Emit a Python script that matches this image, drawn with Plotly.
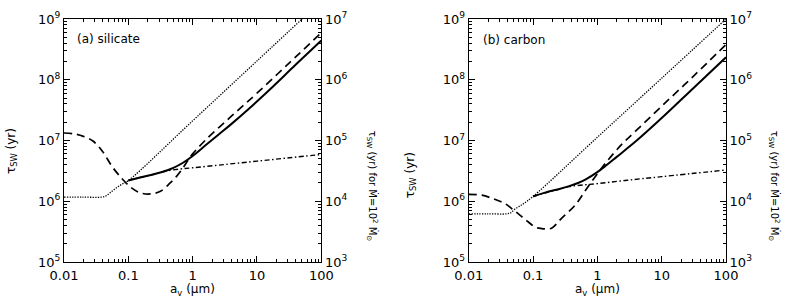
import plotly.graph_objects as go

# ---------------- data (a_v in micron, tau_SW in yr) ----------------
# (a) silicate
sil_dot_a   = [0.01, 0.02, 0.038, 0.045, 0.052, 0.063, 0.079, 0.1, 1, 10, 100]
sil_dot_tau = [1.17e6, 1.17e6, 1.17e6, 1.23e6, 1.38e6, 1.62e6, 1.9e6, 2.19e6, 2.11e7, 2.04e8, 1.97e9]

sil_sol_a   = [0.1, 0.158, 0.251, 0.355, 0.501, 0.708, 1.0, 1.585, 2.512, 3.981, 7.345, 15.85, 39.81, 100]
sil_sol_tau = [2.2e6, 2.48e6, 2.79e6, 3.09e6, 3.55e6, 4.3e6, 5.56e6, 8.32e6, 1.245e7, 1.86e7, 3.27e7, 6.92e7, 1.76e8, 4.43e8]

sil_dd_a    = [0.1, 0.158, 0.251, 0.355, 0.631, 1.0, 3.162, 10, 31.62, 100]
sil_dd_tau  = [2.2e6, 2.48e6, 2.79e6, 3.09e6, 3.39e6, 3.55e6, 4.03e6, 4.57e6, 5.19e6, 5.89e6]

sil_das_a   = [0.01, 0.0141, 0.02, 0.0282, 0.0398, 0.0562, 0.0794, 0.112, 0.158, 0.224, 0.316,
               0.447, 0.562, 0.708, 0.857, 1.0, 1.78, 3.16, 5.62, 10, 31.6, 100]
sil_das_tau = [1.33e7, 1.29e7, 1.17e7, 9.8e6, 6.6e6, 3.7e6, 2.37e6, 1.66e6, 1.36e6, 1.32e6, 1.46e6,
               2.0e6, 2.57e6, 3.55e6, 4.84e6, 6.03e6, 1.15e7, 2.0e7, 3.47e7, 6.0e7, 1.88e8, 5.93e8]

# (b) carbon
car_dot_a   = [0.01, 0.02, 0.039, 0.045, 0.052, 0.063, 0.071, 0.1, 1, 10, 100]
car_dot_tau = [6.21e5, 6.21e5, 6.21e5, 6.46e5, 7.41e5, 8.41e5, 9.12e5, 1.2e6, 1.13e7, 1.06e8, 1.0e9]

car_sol_a   = [0.1, 0.158, 0.25, 0.355, 0.5, 0.65, 1.0, 1.41, 2.0, 4.0, 10, 31.6, 100]
car_sol_tau = [1.2e6, 1.4e6, 1.58e6, 1.76e6, 2.0e6, 2.28e6, 3.02e6, 3.98e6, 5.37e6, 9.77e6, 2.34e7, 7.41e7, 2.34e8]

car_dd_a    = [0.1, 0.158, 0.25, 0.355, 0.63, 1.0, 2.72, 10, 100]
car_dd_tau  = [1.2e6, 1.38e6, 1.57e6, 1.74e6, 1.86e6, 1.95e6, 2.2e6, 2.54e6, 3.27e6]

car_das_a   = [0.01, 0.016, 0.023, 0.032, 0.037, 0.053, 0.076, 0.108, 0.137, 0.164, 0.197, 0.28,
               0.45, 0.73, 1.33, 2.41, 3.88, 10, 31.6, 100]
car_das_tau = [1.3e6, 1.26e6, 1.12e6, 9.8e5, 9.1e5, 6.8e5, 5.0e5, 3.77e5, 3.55e5, 3.5e5, 3.63e5, 5.28e5,
               8.6e5, 1.79e6, 4.19e6, 8.7e6, 1.41e7, 3.67e7, 1.16e8, 3.8e8]

x_tickvals  = [0.01, 0.1, 1, 10, 100]
x_ticktext  = ["0.01", "0.1", "1", "10", "100"]
yl_tickvals = [1e5, 1e6, 1e7, 1e8, 1e9]
yl_ticktext = ["10<sup>5</sup>", "10<sup>6</sup>", "10<sup>7</sup>", "10<sup>8</sup>", "10<sup>9</sup>"]
yr_tickvals = [1e3, 1e4, 1e5, 1e6, 1e7]
yr_ticktext = ["10<sup>3</sup>", "10<sup>4</sup>", "10<sup>5</sup>", "10<sup>6</sup>", "10<sup>7</sup>"]

# ---------------- layout geometry ----------------
W, H = 785, 303
ML, MR, MT, MB = 64, 59, 10, 41
PW = W - ML - MR
PH = H - MT - MB
dom_left = [0, (321.3 - ML) / PW]
dom_right = [(468.7 - ML) / PW, 1]

FONT = "DejaVu Sans"
BLACK = "#000000"
SMOOTH = 1.0

def minor_vals(lo, hi):
    out = []
    for e in range(lo, hi):
        for m in range(2, 10):
            out.append(m * 10.0 ** e)
    return out

def xax(domain, anchor):
    return dict(type="log", domain=domain, anchor=anchor, range=[-2, 2],
                showline=True, linecolor=BLACK, linewidth=1, mirror="ticks",
                ticks="inside", ticklen=6, tickwidth=1, tickcolor=BLACK,
                tickmode="array", tickvals=x_tickvals, ticktext=x_ticktext,
                showgrid=False, zeroline=False, ticklabelstandoff=1,
                tickfont=dict(family=FONT, size=13, color=BLACK))

def xminor(overlay, anchor):
    return dict(type="log", overlaying=overlay, anchor=anchor, range=[-2, 2], side="bottom",
                showline=False, mirror="ticks", ticks="inside", ticklen=3, tickwidth=1,
                tickcolor=BLACK, tickmode="array", tickvals=minor_vals(-2, 2),
                showticklabels=False, showgrid=False, zeroline=False)

def yax(anchor, lo, hi, vals, text, side="left", overlay=None):
    d = dict(type="log", anchor=anchor, range=[lo, hi], side=side,
             showline=True, linecolor=BLACK, linewidth=1,
             ticks="inside", ticklen=6, tickwidth=1, tickcolor=BLACK,
             tickmode="array", tickvals=vals, ticktext=text,
             showgrid=False, zeroline=False, ticklabelstandoff=0,
             tickfont=dict(family=FONT, size=13, color=BLACK))
    if overlay:
        d["overlaying"] = overlay
    return d

def yminor(overlay, anchor):
    return dict(type="log", overlaying=overlay, anchor=anchor, range=[5, 9], side="left",
                showline=False, mirror="ticks", ticks="inside", ticklen=3, tickwidth=1,
                tickcolor=BLACK, tickmode="array", tickvals=minor_vals(5, 9),
                showticklabels=False, showgrid=False, zeroline=False)

fig = go.Figure()

def add_panel(xa, ya, dot, sol, dd, das):
    fig.add_trace(go.Scatter(x=dot[0], y=dot[1], xaxis=xa, yaxis=ya, mode="lines",
                             line=dict(color=BLACK, width=1.3, dash="1.3px,1.3px", shape="spline", smoothing=SMOOTH),
                             showlegend=False, hoverinfo="skip"))
    fig.add_trace(go.Scatter(x=dd[0], y=dd[1], xaxis=xa, yaxis=ya, mode="lines",
                             line=dict(color=BLACK, width=1.4, dash="5px,2.5px,1.5px,2.5px", shape="spline", smoothing=SMOOTH),
                             showlegend=False, hoverinfo="skip"))
    fig.add_trace(go.Scatter(x=das[0], y=das[1], xaxis=xa, yaxis=ya, mode="lines",
                             line=dict(color=BLACK, width=1.7, dash="8px,5px", shape="spline", smoothing=SMOOTH),
                             showlegend=False, hoverinfo="skip"))
    fig.add_trace(go.Scatter(x=sol[0], y=sol[1], xaxis=xa, yaxis=ya, mode="lines",
                             line=dict(color=BLACK, width=2, shape="spline", smoothing=SMOOTH),
                             showlegend=False, hoverinfo="skip"))

add_panel("x", "y", (sil_dot_a, sil_dot_tau), (sil_sol_a, sil_sol_tau),
          (sil_dd_a, sil_dd_tau), (sil_das_a, sil_das_tau))
add_panel("x2", "y3", (car_dot_a, car_dot_tau), (car_sol_a, car_sol_tau),
          (car_dd_a, car_dd_tau), (car_das_a, car_das_tau))
# empty traces so that the extra axes are drawn
for xa, ya in [("x", "y2"), ("x2", "y4"), ("x3", "y5"), ("x4", "y6")]:
    fig.add_trace(go.Scatter(x=[], y=[], xaxis=xa, yaxis=ya, showlegend=False, hoverinfo="skip"))

def px2paper(xp, yp):
    return (xp - ML) / PW, (H - MB - yp) / PH

annots = []
def ann(text, xp, yp, angle=0, size=13, xanchor="center", yanchor="middle"):
    x, y = px2paper(xp, yp)
    annots.append(dict(text=text, x=x, y=y, xref="paper", yref="paper", showarrow=False,
                       textangle=angle, xanchor=xanchor, yanchor=yanchor,
                       font=dict(family=FONT, size=size, color=BLACK)))

ann("(a) silicate", 75, 31, xanchor="left", size=12)
ann("(b) carbon", 481, 32, xanchor="left", size=12)
ann("a<sub>v</sub> (µm)", 192, 291, size=12)
ann("a<sub>v</sub> (µm)", 597, 291, size=12)
ann("τ<sub>SW</sub> (yr)", 12, 147, angle=-90, size=12)
ann("τ<sub>SW</sub> (yr)", 411, 172, angle=-90, size=12)
ann("τ<sub>SW</sub> (yr) for Ṁ=10<sup>2</sup> Ṁ<sub>⊙</sub>", 372, 183, angle=90, size=10)
ann("τ<sub>SW</sub> (yr) for Ṁ=10<sup>2</sup> Ṁ<sub>⊙</sub>", 774, 183, angle=90, size=10)

fig.update_layout(
    width=W, height=H, autosize=False,
    margin=dict(l=ML, r=MR, t=MT, b=MB, pad=0),
    paper_bgcolor="white", plot_bgcolor="white",
    showlegend=False,
    xaxis=xax(dom_left, "y"),
    xaxis3=xminor("x", "y"),
    yaxis=yax("x", 5, 9, yl_tickvals, yl_ticktext),
    yaxis2=yax("x", 3, 7, yr_tickvals, yr_ticktext, side="right", overlay="y"),
    yaxis5=yminor("y", "x"),
    xaxis2=xax(dom_right, "y3"),
    xaxis4=xminor("x2", "y3"),
    yaxis3=yax("x2", 5, 9, yl_tickvals, yl_ticktext),
    yaxis4=yax("x2", 3, 7, yr_tickvals, yr_ticktext, side="right", overlay="y3"),
    yaxis6=yminor("y3", "x2"),
    annotations=annots,
)

# the page body has a default 8px margin; remove it so the figure sits at (0, 0)
fig.write_html("out.html", config={"displayModeBar": False},
               post_script="document.body.style.margin='0px';")
